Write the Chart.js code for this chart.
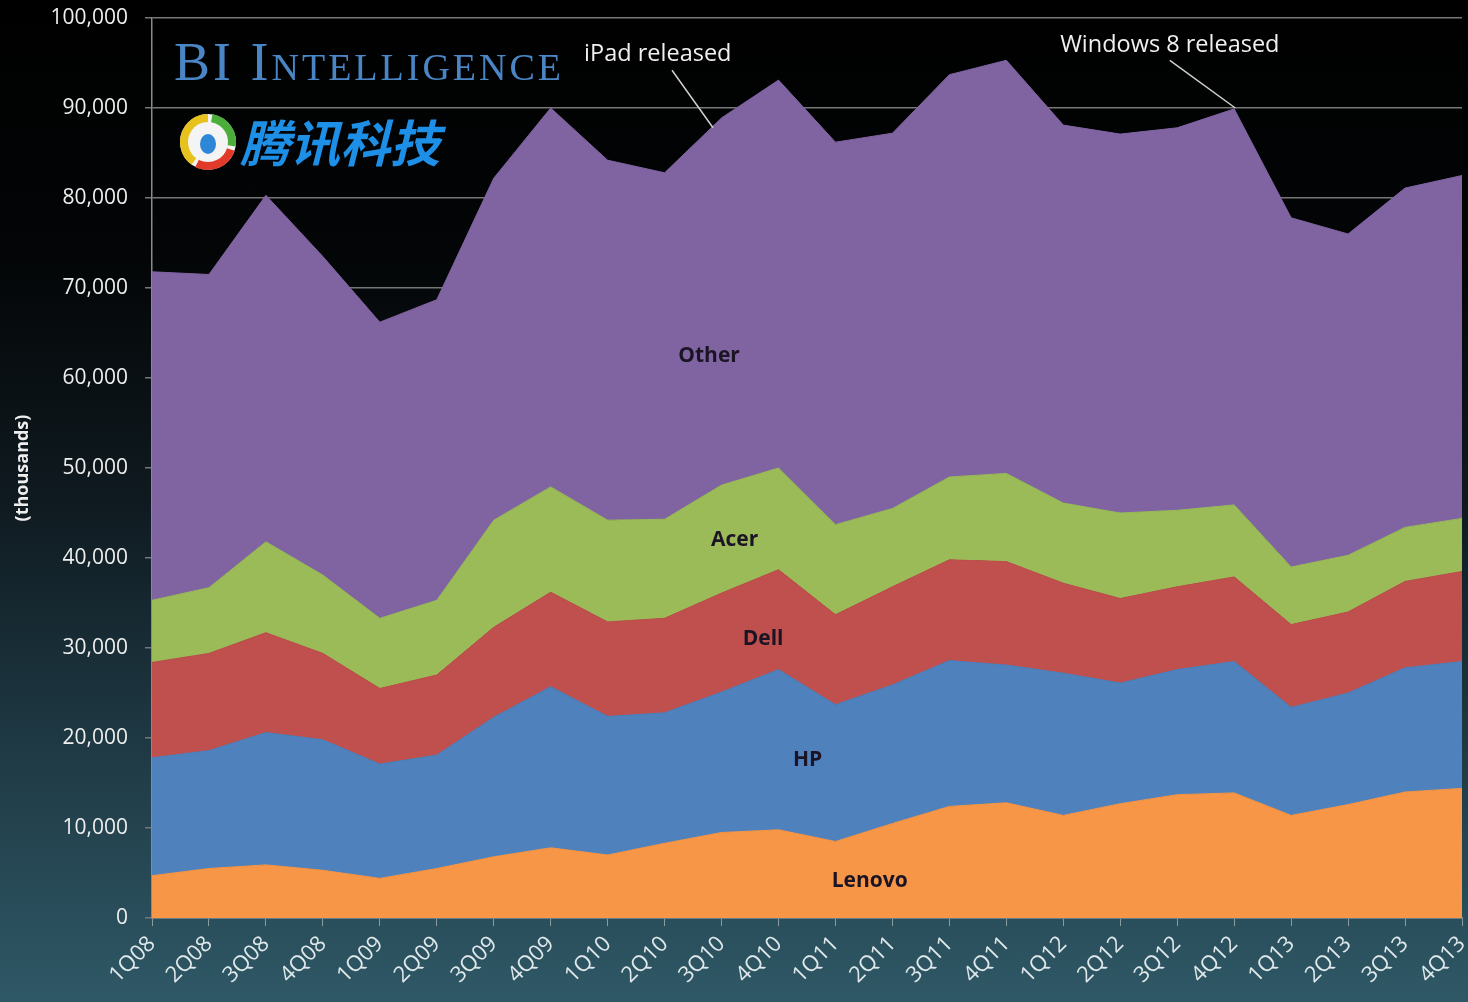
<!DOCTYPE html>
<html>
<head>
<meta charset="utf-8">
<script src="https://cdn.jsdelivr.net/npm/chart.js@4/dist/chart.umd.min.js"></script>
<style>
  html, body { margin: 0; padding: 0; }
  body {
    width: 1468px; height: 1002px; overflow: hidden;
    background: linear-gradient(to bottom, #000 0%, #030506 25%, #0f1a20 50%, #1f3a45 75%, #2f5866 100%);
  }
  #wrap { position: relative; width: 1468px; height: 1002px; }
</style>
</head>
<body>
<div id="wrap"><canvas id="chart-pcs"></canvas></div>
<script>
const quarters = ['1Q08','2Q08','3Q08','4Q08','1Q09','2Q09','3Q09','4Q09','1Q10','2Q10','3Q10','4Q10',
  '1Q11','2Q11','3Q11','4Q11','1Q12','2Q12','3Q12','4Q12','1Q13','2Q13','3Q13','4Q13'];

// shipments per vendor, thousands (stacked bottom to top)
const lenovo = [4700,5500,5900,5300,4400,5500,6800,7800,7000,8300,9500,9800,8500,10500,12400,12800,11400,12700,13700,13900,11400,12600,14000,14400];
const hp     = [13100,13100,14700,14500,12700,12600,15500,17900,15400,14500,15600,17800,15200,15400,16200,15300,15800,13400,13900,14600,12000,12400,13800,14100];
const dell   = [10600,10800,11100,9600,8400,8900,10000,10500,10500,10500,11000,11100,10000,10900,11200,11500,10000,9400,9200,9400,9200,9000,9600,10000];
const acer   = [6900,7300,10100,8700,7800,8300,11900,11700,11300,11000,12000,11300,10000,8700,9200,9800,8900,9500,8500,8000,6400,6300,6000,5900];
const other  = [36500,34800,38500,35400,32900,33400,38000,42100,40000,38500,40800,43100,42500,41700,44700,45900,42000,42100,42500,44000,38800,35700,37700,38100];

const seriesNames = ['Lenovo','HP','Dell','Acer','Other'];
const yTicks = [0,10000,20000,30000,40000,50000,60000,70000,80000,90000,100000];

// in-area labels: [text, category index, value]
const areaLabels = [
  ['Other', 9.78, 62400],
  ['Acer', 10.23, 42000],
  ['Dell', 10.73, 31000],
  ['HP', 11.51, 17500],
  ['Lenovo', 12.6, 4100],
];
// callouts: [text, textIndex, textValue, lineFrom idx, val, lineTo idx, val]
const callouts = [
  ['iPad released', 8.88, 96000, 9.13, 94200, 9.85, 87800],
  ['Windows 8 released', 17.87, 97000, 17.87, 95300, 19.02, 90000],
];

const colors = {
  orange: '#F79646',
  blue: '#4F81BD',
  red: '#C0504D',
  green: '#9BBB59',
  purple: '#8064A2',
};
const fills = [colors.orange, colors.blue, colors.red, colors.green, colors.purple];
const values = [lenovo, hp, dell, acer, other];

const decor = {
  id: 'decor',
  afterDatasetsDraw(chart) {
    const { ctx } = chart;
    const x = chart.scales.x, y = chart.scales.y;
    ctx.save();
    ctx.textAlign = 'center';
    ctx.textBaseline = 'middle';
    ctx.fillStyle = '#1b1424';
    ctx.font = 'bold 21px "Open Sans"';
    areaLabels.forEach(([t, i, v]) => ctx.fillText(t, x.getPixelForValue(i), y.getPixelForValue(v)));

    ctx.fillStyle = '#f0f0f0';
    ctx.strokeStyle = '#d0d0d0';
    ctx.lineWidth = 1.5;
    ctx.font = '23.5px "Open Sans"';
    callouts.forEach(([t, ti, tv, a, av, b, bv]) => {
      ctx.fillText(t, x.getPixelForValue(ti), y.getPixelForValue(tv));
      ctx.beginPath();
      ctx.moveTo(x.getPixelForValue(a), y.getPixelForValue(av));
      ctx.lineTo(x.getPixelForValue(b), y.getPixelForValue(bv));
      ctx.stroke();
    });

    // axis title
    ctx.save();
    ctx.translate(23, 468);
    ctx.rotate(-Math.PI / 2);
    ctx.fillStyle = '#eeeeee';
    ctx.font = 'bold 18px "Open Sans"';
    ctx.fillText('(thousands)', 0, 0);
    ctx.restore();

    // BI Intelligence wordmark
    ctx.textAlign = 'left';
    ctx.textBaseline = 'alphabetic';
    ctx.fillStyle = '#4a86c6';
    ctx.font = 'small-caps 54px "Liberation Serif"';
    ctx.letterSpacing = '3px';
    ctx.fillText('BI Intelligence', 174, 80);
    ctx.letterSpacing = '0px';

    // tencent logo
    const cx = 208, cy = 142;
    ctx.beginPath(); ctx.arc(cx, cy, 28, 0, Math.PI * 2); ctx.fillStyle = '#f4f4f4'; ctx.fill();
    ctx.lineWidth = 8;
    [['#e8c21c', 0.7, 1.5], ['#4cae3a', 1.55, 2.05], ['#e23a2a', 0.1, 0.65]].forEach(([c, s, e]) => {
      ctx.beginPath(); ctx.arc(cx, cy, 24, s * Math.PI, e * Math.PI); ctx.strokeStyle = c; ctx.stroke();
    });
    ctx.beginPath(); ctx.ellipse(cx, cy + 2, 8, 10, 0, 0, Math.PI * 2); ctx.fillStyle = '#2d86d6'; ctx.fill();
    ctx.fillStyle = '#1d8fe6';
    ctx.font = 'italic bold 50px "Noto Sans CJK SC"';
    ctx.fillText('腾讯科技', 240, 162);
    ctx.restore();
  },
};

new Chart(document.getElementById('chart-pcs'), {
  type: 'line',
  data: {
    labels: quarters,
    datasets: seriesNames.map((name, i) => ({
      label: name,
      data: values[i],
      backgroundColor: fills[i],
      borderColor: fills[i],
      borderWidth: 1,
      pointRadius: 0,
      tension: 0,
      fill: i === 0 ? 'origin' : '-1',
    })),
  },
  options: {
    responsive: true,
    maintainAspectRatio: false,
    animation: false,
    layout: { padding: { top: 18, right: 6, left: 0, bottom: 0 } },
    plugins: { legend: { display: false }, tooltip: { enabled: false } },
    scales: {
      x: {
        offset: false,
        grid: { drawOnChartArea: false, color: '#8a9aa0', tickLength: 8 },
        border: { color: '#8a9aa0', width: 1.5 },
        ticks: {
          color: '#dfe8ea', font: { family: 'Open Sans', size: 22 },
          minRotation: 45, maxRotation: 45, autoSkip: false, padding: 5,
        },
        afterFit: (s) => { s.height = 84; s.paddingLeft = 0; s.paddingRight = 0; },
      },
      y: {
        stacked: true,
        min: 0, max: 100000,
        afterBuildTicks: (s) => { s.ticks = yTicks.map((v) => ({ value: v })); },
        grid: { color: '#777777', lineWidth: 1.5, tickLength: 7 },
        border: { color: '#8a8a8a', width: 1.5 },
        ticks: { color: '#eeeeee', font: { family: 'Open Sans', size: 21 }, padding: 17 },
        afterFit: (s) => { s.width = 152; s.paddingTop = 0; s.paddingBottom = 0; },
      },
    },
  },
  plugins: [decor],
});
</script>
</body>
</html>
